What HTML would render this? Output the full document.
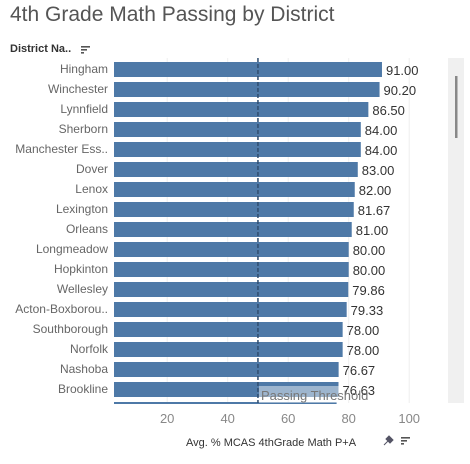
<!DOCTYPE html>
<html><head><meta charset="utf-8"><style>
body{margin:0;width:470px;height:464px;background:#fff;font-family:"Liberation Sans",sans-serif;overflow:hidden;position:relative}
</style></head><body>
<div style="position:absolute;left:10px;top:3px;font-size:21px;color:#555">4th Grade Math Passing by District</div>
<div style="position:absolute;left:10px;top:43px;font-size:11px;font-weight:bold;color:#333">District Na..</div>
<svg style="position:absolute;left:81px;top:45px" width="10" height="10"><rect x="0" y="1" width="9" height="1.6" fill="#555"/><rect x="0" y="4" width="6" height="1.6" fill="#555"/><rect x="0" y="7" width="3" height="1.6" fill="#555"/></svg>
<svg id="c" width="470" height="464" style="position:absolute;left:0;top:0"></svg>
<script>
const districts=["Hingham","Winchester","Lynnfield","Sherborn","Manchester Ess..","Dover","Lenox","Lexington","Orleans","Longmeadow","Hopkinton","Wellesley","Acton-Boxborou..","Southborough","Norfolk","Nashoba","Brookline"];
const values=[91.00,90.20,86.50,84.00,84.00,83.00,82.00,81.67,81.00,80.00,80.00,79.86,79.33,78.00,78.00,76.67,76.63];
const ticks=[20,40,60,80,100];
const threshold=50;
const NS="http://www.w3.org/2000/svg";
const svg=document.getElementById('c');
const x=v=>106.7+3.025*v;
const rowY=i=>60+20*i;
function mk(t,a){const e=document.createElementNS(NS,t);for(const k in a)e.setAttribute(k,a[k]);svg.appendChild(e);return e;}
const track=mk('rect',{x:448,y:58,width:16,height:345,fill:'#f0f0f0'});


const thumb=mk('rect',{x:455,y:76,width:2.5,height:62,fill:'#888'});


ticks.forEach(t=>{
 const g=mk('line',{x1:x(t),x2:x(t),y1:58,y2:403,stroke:'#eee','stroke-width':1});
 
 
 const l=mk('text',{x:x(t),y:423,'text-anchor':'middle','font-size':13,fill:'#888'});
 l.textContent=t;
 
 
});
districts.forEach((d,i)=>{
 const y=rowY(i);
 const lab=mk('text',{x:108,y:y+13,'text-anchor':'end','font-size':12,fill:'#666'});
 lab.textContent=d;
 
 
 const b=mk('rect',{x:114,y:y+2,width:x(values[i])-114,height:15,fill:'#4e79a7'});
 
 
 const v=mk('text',{x:x(values[i])+4,y:y+15,'font-size':13,fill:'#333'});
 v.textContent=values[i].toFixed(2);
 
 
});
const partial=mk('rect',{x:114,y:402,width:x(76)-114,height:2,fill:'#4e79a7'});


const th=mk('line',{x1:x(threshold),x2:x(threshold),y1:58,y2:403,stroke:'#2f4d70','stroke-width':1.5,'stroke-dasharray':'4,2'});


const tb=mk('rect',{x:x(threshold)+1,y:386,width:80,height:17,fill:'#fff','fill-opacity':0.45});


const tt=mk('text',{x:x(threshold)+3,y:400,'font-size':13,fill:'#777'});
tt.textContent='Passing Threshold';


const at=mk('text',{x:186,y:446,'font-size':11,fill:'#333'});
at.textContent='Avg. % MCAS 4thGrade Math P+A';


const pin=mk('path',{d:'M384 445 L388 441 L386 439 L389 436 L393 440 L390 443 L388 441 Z',fill:'#556',stroke:'#556','stroke-width':1});


[[0,9],[3,6],[6,3]].forEach(([dy,w])=>{
 const r=mk('rect',{x:401,y:437+dy,width:w,height:1.6,fill:'#555'});
 
 
});
</script>
</body></html>
